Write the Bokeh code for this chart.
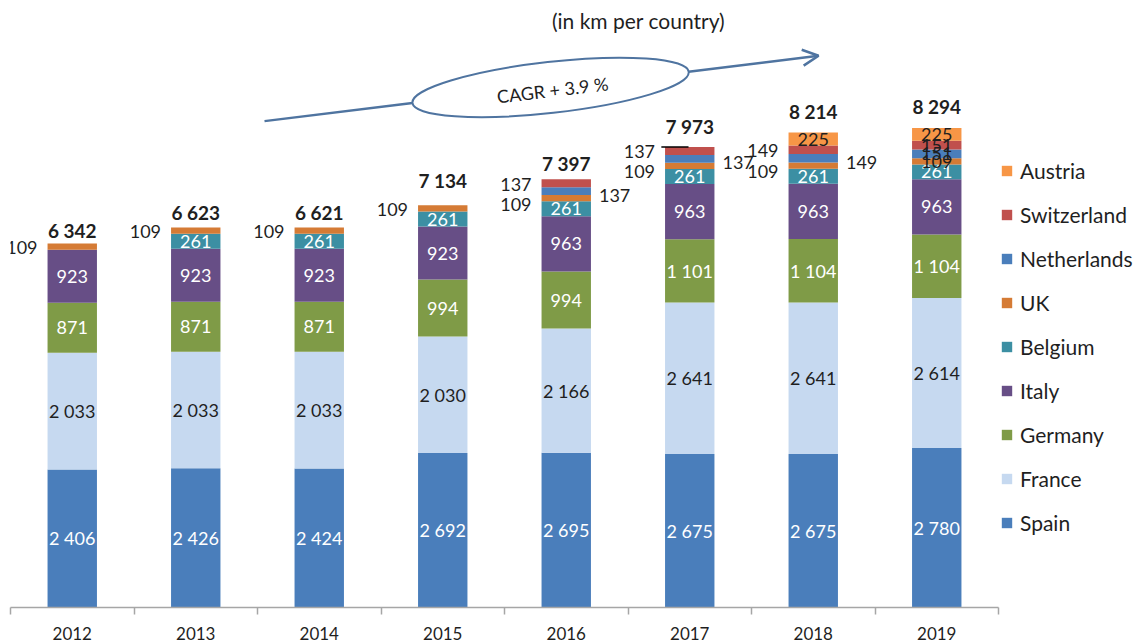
from bokeh.plotting import figure
from bokeh.models import (ColumnDataSource, Range1d, FixedTicker, Legend, LegendItem,
                          Arrow, OpenHead, Label)
from bokeh.core.properties import value
from bokeh.embed import file_html
from bokeh.resources import INLINE

# ---------------- data ----------------
years = ["2012", "2013", "2014", "2015", "2016", "2017", "2018", "2019"]
countries = ["Spain", "France", "Germany", "Italy", "Belgium", "UK",
             "Netherlands", "Switzerland", "Austria"]
spain = [2406, 2426, 2424, 2692, 2695, 2675, 2675, 2780]
france = [2033, 2033, 2033, 2030, 2166, 2641, 2641, 2614]
germany = [871, 871, 871, 994, 994, 1101, 1104, 1104]
italy = [923, 923, 923, 923, 963, 963, 963, 963]
belgium = [0, 261, 261, 261, 261, 261, 261, 261]
uk = [109, 109, 109, 109, 109, 109, 109, 109]
netherlands = [0, 0, 0, 0, 137, 137, 149, 151]
switzerland = [0, 0, 0, 0, 137, 137, 149, 151]
austria = [0, 0, 0, 0, 0, 0, 225, 225]
totals = [6342, 6623, 6621, 7134, 7397, 7973, 8214, 8294]
title_text = "(in km per country)"
cagr_text = "CAGR + 3.9 %"

series = [spain, france, germany, italy, belgium, uk, netherlands, switzerland, austria]
colors = ["#4A7EBB", "#C6D9F0", "#7F9B47", "#674E86", "#3C8FA3", "#D57B35",
          "#4A7EBB", "#C0504D", "#F79646"]

FONT = "Lato"
DARK = "#1F1F1F"


def fmt(v):
    return f"{v:,}".replace(",", " ")


xs = list(range(len(years)))
data = {"x": xs}
for name, vals in zip(countries, series):
    data[name] = vals
source = ColumnDataSource(data)

# the frame extends under the legend; the axis itself is bounded to the categories
X_END = 7.5 + 138 / 123.5
p = figure(width=1136, height=642,
           x_range=Range1d(-0.5, X_END), y_range=Range1d(0, 10578),
           y_axis_location=None, output_backend="svg", toolbar_location=None,
           min_border_left=10, min_border_right=0, min_border_top=0,
           min_border_bottom=0)
p.outline_line_color = None
p.grid.visible = False
p.background_fill_color = "white"
p.border_fill_color = "white"

# secondary scale on which the totals are placed
p.extra_y_ranges = {"tot": Range1d(438, 9950)}

BAR_W = 0.4
renderers = p.vbar_stack(countries, x="x", width=BAR_W, color=colors,
                         line_color=None, source=source)

# x axis: labels at centres, ticks at category boundaries
ax = p.xaxis[0]
ax.bounds = (-0.5, 7.5)
ax.ticker = FixedTicker(ticks=xs, minor_ticks=[i - 0.5 for i in range(len(years) + 1)])
ax.major_label_overrides = {i: y for i, y in enumerate(years)}
ax.major_tick_line_color = None
ax.major_tick_out = 7
ax.major_tick_in = 0
ax.minor_tick_out = 7
ax.minor_tick_in = 0
ax.minor_tick_line_color = "#A6A6A6"
ax.minor_tick_line_width = 1.5
ax.axis_line_color = "#A6A6A6"
ax.axis_line_width = 1.5
ax.major_label_text_font = FONT
ax.major_label_text_font_size = "17px"
ax.major_label_text_color = DARK
ax.major_label_standoff = 12

# ---------------- segment labels ----------------
inside = {"x": [], "y": [], "t": [], "c": []}
left = {"x": [], "y": [], "t": [], "dy": []}
right = {"x": [], "y": [], "t": [], "dy": []}
white_series = {"Spain", "Germany", "Italy", "Belgium"}
outside_left = {"UK", "Switzerland"}
outside_right = {"Netherlands"}
leader = {"x0": [], "x1": [], "y": []}

for i in xs:
    base = 0
    for name, vals in zip(countries, series):
        v = vals[i]
        mid = base + v / 2.0
        top = base + v
        base = top
        if v == 0:
            continue
        small_crowded = (i == len(years) - 1)
        if name in white_series:
            inside["x"].append(i); inside["y"].append(mid)
            inside["t"].append(fmt(v)); inside["c"].append("white")
        elif name == "France" or name == "Austria" or small_crowded:
            inside["x"].append(i); inside["y"].append(mid)
            inside["t"].append(fmt(v)); inside["c"].append(DARK)
        elif name in outside_left:
            left["x"].append(i - BAR_W / 2); left["y"].append(mid)
            left["t"].append(fmt(v))
            left["dy"].append(6 if (name == "UK" and switzerland[i] > 0) else 1)
            if name == "Switzerland" and austria[i] == 0 and netherlands[i] == netherlands[i - 1] and i >= 5:
                leader["x0"].append(i - BAR_W / 2 - 0.03)
                leader["x1"].append(i - 0.01)
                leader["y"].append(top)
        elif name in outside_right:
            right["x"].append(i + BAR_W / 2); right["y"].append(mid)
            right["t"].append(fmt(v)); right["dy"].append(4)

p.text(x="x", y="y", text="t", source=ColumnDataSource(inside),
       text_color="c", text_font=value(FONT), text_font_size="18px",
       text_align="center", text_baseline="middle")
p.text(x="x", y="y", text="t", source=ColumnDataSource(left),
       text_color=DARK, text_font=value(FONT), text_font_size="18px",
       text_align="right", text_baseline="middle", x_offset=-10, y_offset="dy")
p.text(x="x", y="y", text="t", source=ColumnDataSource(right),
       text_color=DARK, text_font=value(FONT), text_font_size="18px",
       text_align="left", text_baseline="middle", x_offset=8, y_offset="dy")
p.segment(x0="x0", y0="y", x1="x1", y1="y", source=ColumnDataSource(leader),
          line_color="black", line_width=1.5)

# totals
p.text(x=xs, y=totals, text=[fmt(t) for t in totals], y_range_name="tot",
       text_color=DARK, text_font=value(FONT), text_font_size="19px",
       text_font_style="bold", text_align="center", text_baseline="middle")

# ---------------- title & CAGR annotation ----------------
p.add_layout(Label(x=4.585, y=10228, text=title_text, text_font=FONT,
                   text_font_size="21px", text_color=DARK,
                   text_align="center", text_baseline="middle"))

ARROW_C = "#4F74A0"
p.segment(x0=[1.557], y0=[8476], x1=[2.755], y1=[8792],
          line_color=ARROW_C, line_width=2.5)
p.ellipse(x=[3.873], y=[9063], width=[278], height=[51], angle=[0.112],
          width_units="screen", height_units="screen",
          fill_color="white", line_color=ARROW_C, line_width=2)
p.add_layout(Arrow(x_start=4.990, y_start=9335, x_end=6.043, y_end=9615,
                   line_color=ARROW_C, line_width=2.5,
                   end=OpenHead(size=16, line_color=ARROW_C, line_width=2.5)))
p.add_layout(Label(x=3.889, y=9019, text=cagr_text, text_font=FONT,
                   text_font_size="18px", text_color=DARK, angle=0.12,
                   text_align="center", text_baseline="middle"))

# ---------------- legend ----------------
items = [LegendItem(label=name, renderers=[r])
         for name, r in reversed(list(zip(countries, renderers)))]
legend = Legend(items=items, location=(990, 72),
                glyph_width=13, glyph_height=13, label_height=26,
                label_standoff=7, spacing=18, padding=0, margin=0,
                label_text_font=FONT, label_text_font_size="21px",
                label_text_color=DARK, border_line_color=None,
                background_fill_alpha=0)
p.add_layout(legend)

open("out.html", "w").write(file_html(p, INLINE))
